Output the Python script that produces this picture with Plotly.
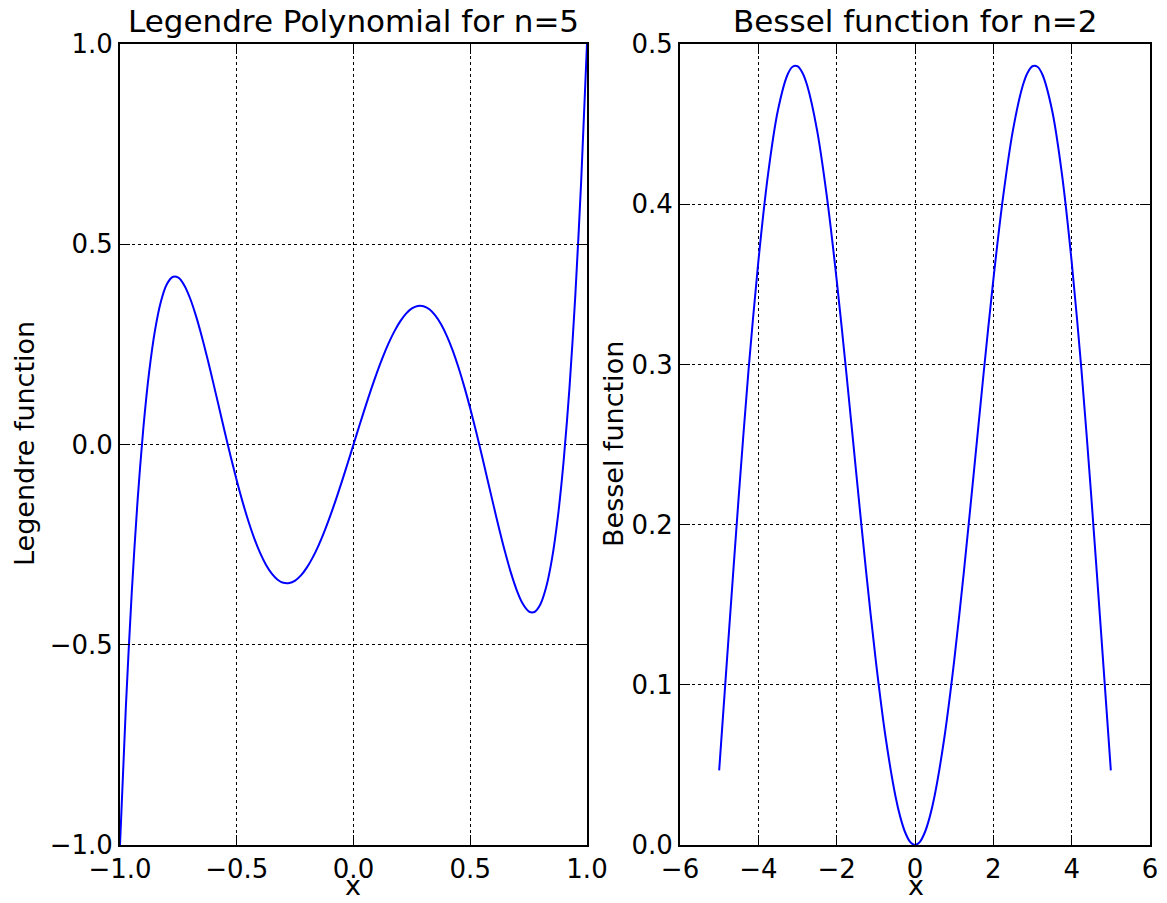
import plotly.graph_objects as go

# Legendre P5 sample points
leg_x = [-1.0, -0.975, -0.95, -0.925, -0.9, -0.875, -0.85, -0.825, -0.8, -0.775,
         -0.75, -0.725, -0.7, -0.675, -0.65, -0.625, -0.6, -0.575, -0.55, -0.525,
         -0.5, -0.475, -0.45, -0.425, -0.4, -0.375, -0.35, -0.325, -0.3, -0.275,
         -0.25, -0.225, -0.2, -0.175, -0.15, -0.125, -0.1, -0.075, -0.05, -0.025,
         0.0, 0.025, 0.05, 0.075, 0.1, 0.125, 0.15, 0.175, 0.2, 0.225,
         0.25, 0.275, 0.3, 0.325, 0.35, 0.375, 0.4, 0.425, 0.45, 0.475,
         0.5, 0.525, 0.55, 0.575, 0.6, 0.625, 0.65, 0.675, 0.7, 0.725,
         0.75, 0.775, 0.8, 0.825, 0.85, 0.875, 0.9, 0.925, 0.95, 0.975, 1.0]
leg_y = [-1.0, -0.6567, -0.3727, -0.1420, 0.0411, 0.1820, 0.2857, 0.3567, 0.3995, 0.4182,
         0.4164, 0.3977, 0.3652, 0.3219, 0.2705, 0.2133, 0.1526, 0.0904, 0.0282, -0.0323,
         -0.0898, -0.1433, -0.1917, -0.2344, -0.2706, -0.3001, -0.3225, -0.3376, -0.3454, -0.3460,
         -0.3397, -0.3268, -0.3075, -0.2825, -0.2523, -0.2175, -0.1788, -0.1370, -0.0927, -0.0467,
         0.0, 0.0467, 0.0927, 0.1370, 0.1788, 0.2175, 0.2523, 0.2825, 0.3075, 0.3268,
         0.3397, 0.3460, 0.3454, 0.3376, 0.3225, 0.3001, 0.2706, 0.2344, 0.1917, 0.1433,
         0.0898, 0.0323, -0.0282, -0.0904, -0.1526, -0.2133, -0.2705, -0.3219, -0.3652, -0.3977,
         -0.4164, -0.4182, -0.3995, -0.3567, -0.2857, -0.1820, -0.0411, 0.1420, 0.3727, 0.6567, 1.0]

# Bessel J2 sample points
bes_x = [-5.0, -4.75, -4.5, -4.25, -4.0, -3.75, -3.5, -3.25, -3.125, -3.0, -2.875, -2.75,
         -2.5, -2.25, -2.0, -1.75, -1.5, -1.25, -1.0, -0.75, -0.5, -0.375, -0.25, -0.125,
         0.0,
         0.125, 0.25, 0.375, 0.5, 0.75, 1.0, 1.25, 1.5, 1.75, 2.0, 2.25, 2.5,
         2.75, 2.875, 3.0, 3.125, 3.25, 3.5, 3.75, 4.0, 4.25, 4.5, 4.75, 5.0]
bes_y = [0.0466, 0.1330, 0.2178, 0.2966, 0.3641, 0.4191, 0.4586, 0.4811, 0.4858, 0.4861, 0.4821, 0.4739,
         0.4461, 0.4047, 0.3528, 0.2940, 0.2321, 0.1711, 0.1149, 0.0671, 0.0306, 0.0174, 0.0078, 0.0020,
         0.0,
         0.0020, 0.0078, 0.0174, 0.0306, 0.0671, 0.1149, 0.1711, 0.2321, 0.2940, 0.3528, 0.4047, 0.4461,
         0.4739, 0.4821, 0.4861, 0.4858, 0.4811, 0.4586, 0.4191, 0.3641, 0.2966, 0.2178, 0.1330, 0.0466]

leg_xticks = [-1.0, -0.5, 0.0, 0.5, 1.0]
leg_yticks = [-1.0, -0.5, 0.0, 0.5, 1.0]
bes_xticks = [-6, -4, -2, 0, 2, 4, 6]
bes_yticks = [0.0, 0.1, 0.2, 0.3, 0.4, 0.5]

FONT = "DejaVu Sans"
W, H = 1167, 903

fig = go.Figure()
fig.add_trace(go.Scatter(x=leg_x, y=leg_y, mode="lines",
                         line=dict(color="#0000ff", width=2, shape="spline", smoothing=0.8),
                         xaxis="x", yaxis="y", showlegend=False))
fig.add_trace(go.Scatter(x=bes_x, y=bes_y, mode="lines",
                         line=dict(color="#0000ff", width=2, shape="spline", smoothing=0.8),
                         xaxis="x2", yaxis="y2", showlegend=False))

ax_common = dict(showline=True, linecolor="black", linewidth=2, mirror="ticks",
                 ticks="inside", ticklen=10, tickwidth=1, tickcolor="black",
                 showgrid=True, gridcolor="black", gridwidth=1, griddash="dot",
                 zeroline=False, automargin=False,
                 tickfont=dict(family=FONT, size=26, color="black"))

x1d = [120 / W, 587 / W]
x2d = [680 / W, 1150 / W]
yd = [1 - 845 / H, 1 - 44 / H]

fig.update_layout(
    width=W, height=H, margin=dict(l=0, r=0, t=0, b=0, autoexpand=False),
    paper_bgcolor="white", plot_bgcolor="white",
    xaxis=dict(domain=x1d, range=[-1, 1], tickvals=leg_xticks, tickformat=".1f", anchor="y", **ax_common),
    yaxis=dict(domain=yd, range=[-1, 1], tickvals=leg_yticks, tickformat=".1f", anchor="x", **ax_common),
    xaxis2=dict(domain=x2d, range=[-6, 6], tickvals=bes_xticks, tickformat="d", anchor="y2", **ax_common),
    yaxis2=dict(domain=yd, range=[0, 0.5], tickvals=bes_yticks, tickformat=".1f", anchor="x2", **ax_common),
)

def ann(text, x, y, size, angle=0, yanchor="middle"):
    fig.add_annotation(text=text, x=x / W, y=1 - y / H, xref="paper", yref="paper",
                       showarrow=False, textangle=angle, xanchor="center", yanchor=yanchor,
                       font=dict(family=FONT, size=size, color="black"))

ann("Legendre Polynomial for n=5", 353, 21, 31)
ann("Bessel function for n=2", 915, 21, 31)
ann("x", 353, 903, 27, yanchor="bottom")
ann("x", 916, 903, 27, yanchor="bottom")
ann("Legendre function", 24, 444, 27, -90)
ann("Bessel function", 613, 444, 27, -90)

fig.write_html("out.html")
